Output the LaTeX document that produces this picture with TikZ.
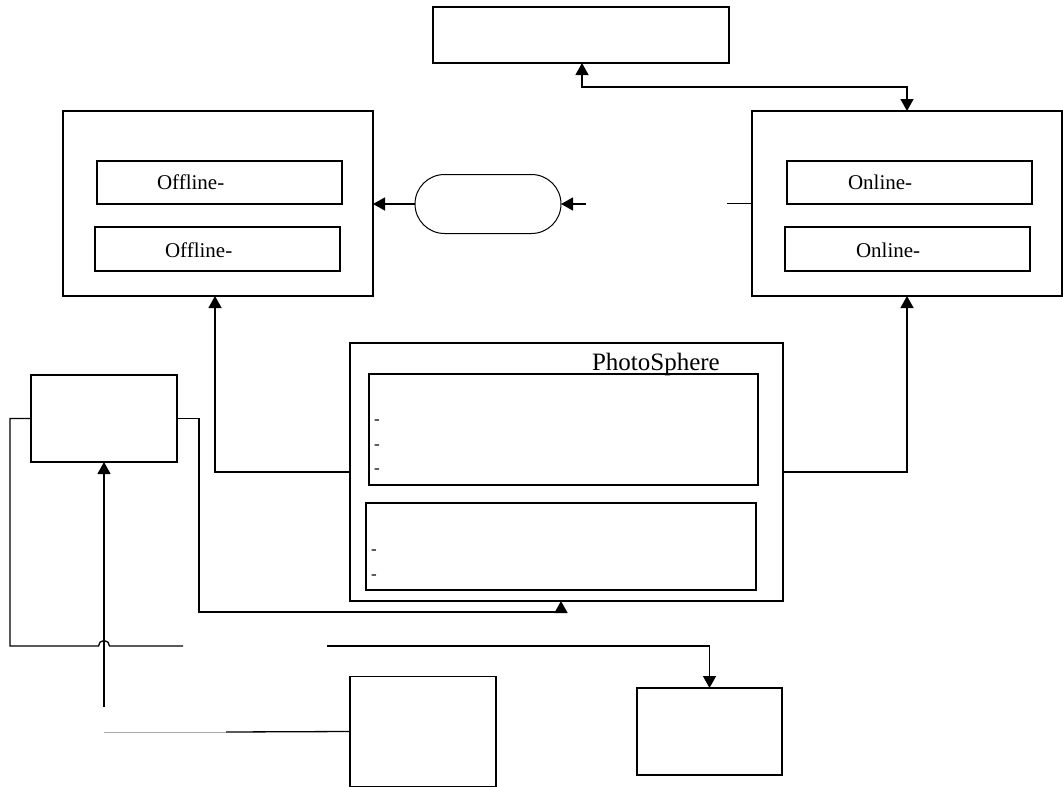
\documentclass[tikz,border=0pt]{standalone}
\usepackage{fontspec}
\setmainfont{Liberation Serif}
\usetikzlibrary{arrows.meta,shapes.misc}
\begin{document}
\begin{tikzpicture}[x=1pt,y=-1pt,
  line width=1.3pt,
  box/.style={draw,rectangle,inner sep=0pt,outer sep=0pt},
  lbl/.style={inner sep=0pt,outer sep=0pt,anchor=base west,font=\fontsize{21}{23}\selectfont},
  title/.style={inner sep=0pt,outer sep=0pt,anchor=base west,font=\fontsize{25}{27}\selectfont},
  dashmark/.style={inner sep=0pt,outer sep=0pt,anchor=base west,font=\fontsize{17}{18}\selectfont},
  arr/.style={-{Triangle[length=12pt,width=13pt]}},
  darr/.style={{Triangle[length=12pt,width=13pt]}-{Triangle[length=12pt,width=13pt]}}]
\useasboundingbox (0,0) rectangle (1063,787);

% top box
\node[box,minimum width=296pt,minimum height=56pt] (top) at (581,35) {};

% offline block
\node[box,minimum width=310pt,minimum height=185pt] (offline) at (218,203.5) {};
\node[box,minimum width=245pt,minimum height=43pt] (off1) at (219.5,182.5) {};
\node[box,minimum width=245pt,minimum height=44pt] (off2) at (217.5,249) {};
\node[lbl] (offt1) at (157,189) {Offline-};
\node[lbl] (offt2) at (165,257) {Offline-};

% online block
\node[box,minimum width=310pt,minimum height=185pt] (online) at (907,203.5) {};
\node[box,minimum width=245pt,minimum height=43pt] (on1) at (909.5,182.5) {};
\node[box,minimum width=245pt,minimum height=44pt] (on2) at (907.5,249) {};
\node[lbl] (ont1) at (848,189) {Online-};
\node[lbl] (ont2) at (856,257) {Online-};

% rounded terminator between the blocks
\node[draw,rounded rectangle,inner sep=0pt,outer sep=0pt,minimum width=146pt,minimum height=59pt,line width=1pt] (stad) at (488,204) {};
\coordinate (gapin) at (586,204);

% PhotoSphere block
\node[box,minimum width=433pt,minimum height=258pt] (photo) at (566.5,472) {};
\node[title] (phtitle) at (592,370) {PhotoSphere};
\node[box,minimum width=389pt,minimum height=111pt] (ph1) at (563.5,429.5) {};
\node[box,minimum width=390pt,minimum height=87pt] (ph2) at (561,546.5) {};
\node[dashmark] (d1) at (374,424) {-};
\node[dashmark] (d2) at (374,449) {-};
\node[dashmark] (d3) at (374,473) {-};
\node[dashmark] (d4) at (371,554) {-};
\node[dashmark] (d5) at (371,579) {-};

% left source box and bottom boxes
\node[box,minimum width=146pt,minimum height=87pt] (src) at (104,418.5) {};
\node[box,minimum width=146pt,minimum height=110pt] (store) at (423,731.5) {};
\node[box,minimum width=145pt,minimum height=87pt] (dst) at (709.5,731.5) {};
\coordinate (srcin) at (104,707);
\coordinate (feedA) at (104,732);
\coordinate (feedB) at (226,732);
\coordinate (busL) at (183,646);
\coordinate (busR) at (327,646);

% connectors
\draw[darr] (top.south -| 582,0) |- (online.north |- 0,87) -- (online.north);
\draw[arr] (stad.west) -- (offline.east |- stad.west);
\draw[arr] (gapin) -- (stad.east);
\draw (online.west) -- ++(-25,0);
\draw[arr] (photo.west) -| (offline.south -| 215,0);
\draw[arr] (photo.east) -| (online.south);
\draw[arr] (src.east) -| (199,612) -| (photo.south -| 561,0);
\draw (src.west) -| (10,646) -- (98.5,646) arc (180:360:5.5) -- (busL);
\draw[arr] (busR) -| (dst.north);
\draw[arr] (srcin) -- (src.south);
\draw[gray!70,line width=1pt] (feedA) -- (feedB);
\draw (feedB) -- (store.west);
\end{tikzpicture}
\end{document}
